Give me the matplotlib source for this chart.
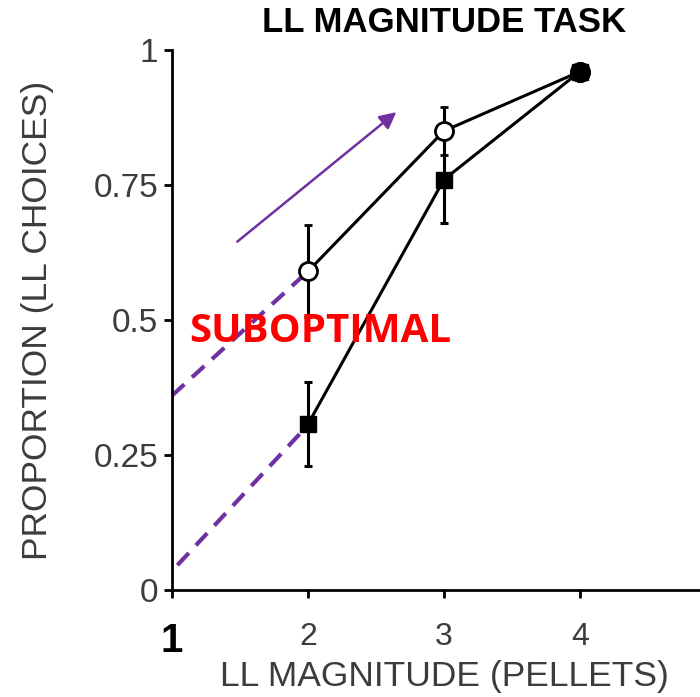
import matplotlib.pyplot as plt

# data
magnitude = [2, 3, 4]
open_mean = [0.59, 0.85, 0.96]
open_err = [0.085, 0.045, 0.01]
square_mean = [0.307, 0.76, 0.96]
square_err = [0.078, 0.08, 0.01]

# purple guide lines (extrapolated back to 1 pellet)
dash_open_x = [1.0, 2.0]
dash_open_y = [0.36, 0.59]
dash_sq_x = [1.04, 1.98]
dash_sq_y = [0.046, 0.30]
arrow_start = (1.48, 0.645)
arrow_end = (2.65, 0.885)

xticks = [1, 2, 3, 4]
yticks = [0, 0.25, 0.5, 0.75, 1]
yticklabels = ['0', '0.25', '0.5', '0.75', '1']

plt.rcParams['font.family'] = ['Liberation Sans', 'DejaVu Sans']
purple = '#7030A0'
grey = '#3c3c3c'

fig = plt.figure(figsize=(7, 6.97), dpi=100)
ax = fig.add_axes([0.2457, 0.1535, 0.777, 0.7748])

# purple dashed extrapolation
ax.plot(dash_open_x, dash_open_y, '--', color=purple, lw=3, dashes=(4, 2.5), zorder=1)
ax.plot(dash_sq_x, dash_sq_y, '--', color=purple, lw=3, dashes=(4, 2.5), zorder=1)
ax.annotate('', xy=arrow_end, xytext=arrow_start,
            arrowprops=dict(arrowstyle='-|>', color=purple, lw=1.8,
                            mutation_scale=25, shrinkA=0, shrinkB=0))

ax.errorbar(magnitude, square_mean, yerr=square_err, color='black', lw=2.2,
            marker='s', ms=11, mfc='black', mec='black', capsize=3,
            elinewidth=2.2, capthick=2.2, zorder=3)
ax.errorbar(magnitude, open_mean, yerr=open_err, color='black', lw=2.2,
            marker='o', ms=13, mfc='white', mec='black', mew=2, capsize=3,
            elinewidth=2.2, capthick=2.2, zorder=4)
ax.plot([4], [0.96], 'o', color='black', ms=14, zorder=5)

ax.text(1.13, 0.478, 'SUBOPTIMAL', color='red', fontsize=29, fontweight='bold',
        family=['Open Sans', 'DejaVu Sans'], va='center', ha='left', zorder=6)

ax.set_xlim(1, 5)
ax.set_ylim(0, 1)
ax.set_xticks(xticks)
ax.set_xticklabels([str(t) for t in xticks])
ax.set_yticks(yticks)
ax.set_yticklabels(yticklabels)
ax.spines['top'].set_visible(False)
ax.spines['right'].set_visible(False)
ax.spines['left'].set_linewidth(2)
ax.spines['bottom'].set_linewidth(2)
ax.tick_params(axis='both', direction='out', length=6, width=2, labelsize=24,
               labelcolor=grey)
ax.tick_params(axis='y', pad=4)
ax.tick_params(axis='x', pad=17, labelsize=23)

first = ax.get_xticklabels()[0]
first.set_fontweight('bold')
first.set_color('black')
first.set_fontsize(29)

ax.set_xlabel('LL MAGNITUDE (PELLETS)', fontsize=25.5, color=grey, labelpad=0)
ax.set_ylabel('PROPORTION (LL CHOICES)', fontsize=25.5, color=grey, labelpad=28)
ax.set_title('LL MAGNITUDE TASK', fontsize=25, fontweight='bold', pad=13)

fig.savefig('out.png', dpi=100)
